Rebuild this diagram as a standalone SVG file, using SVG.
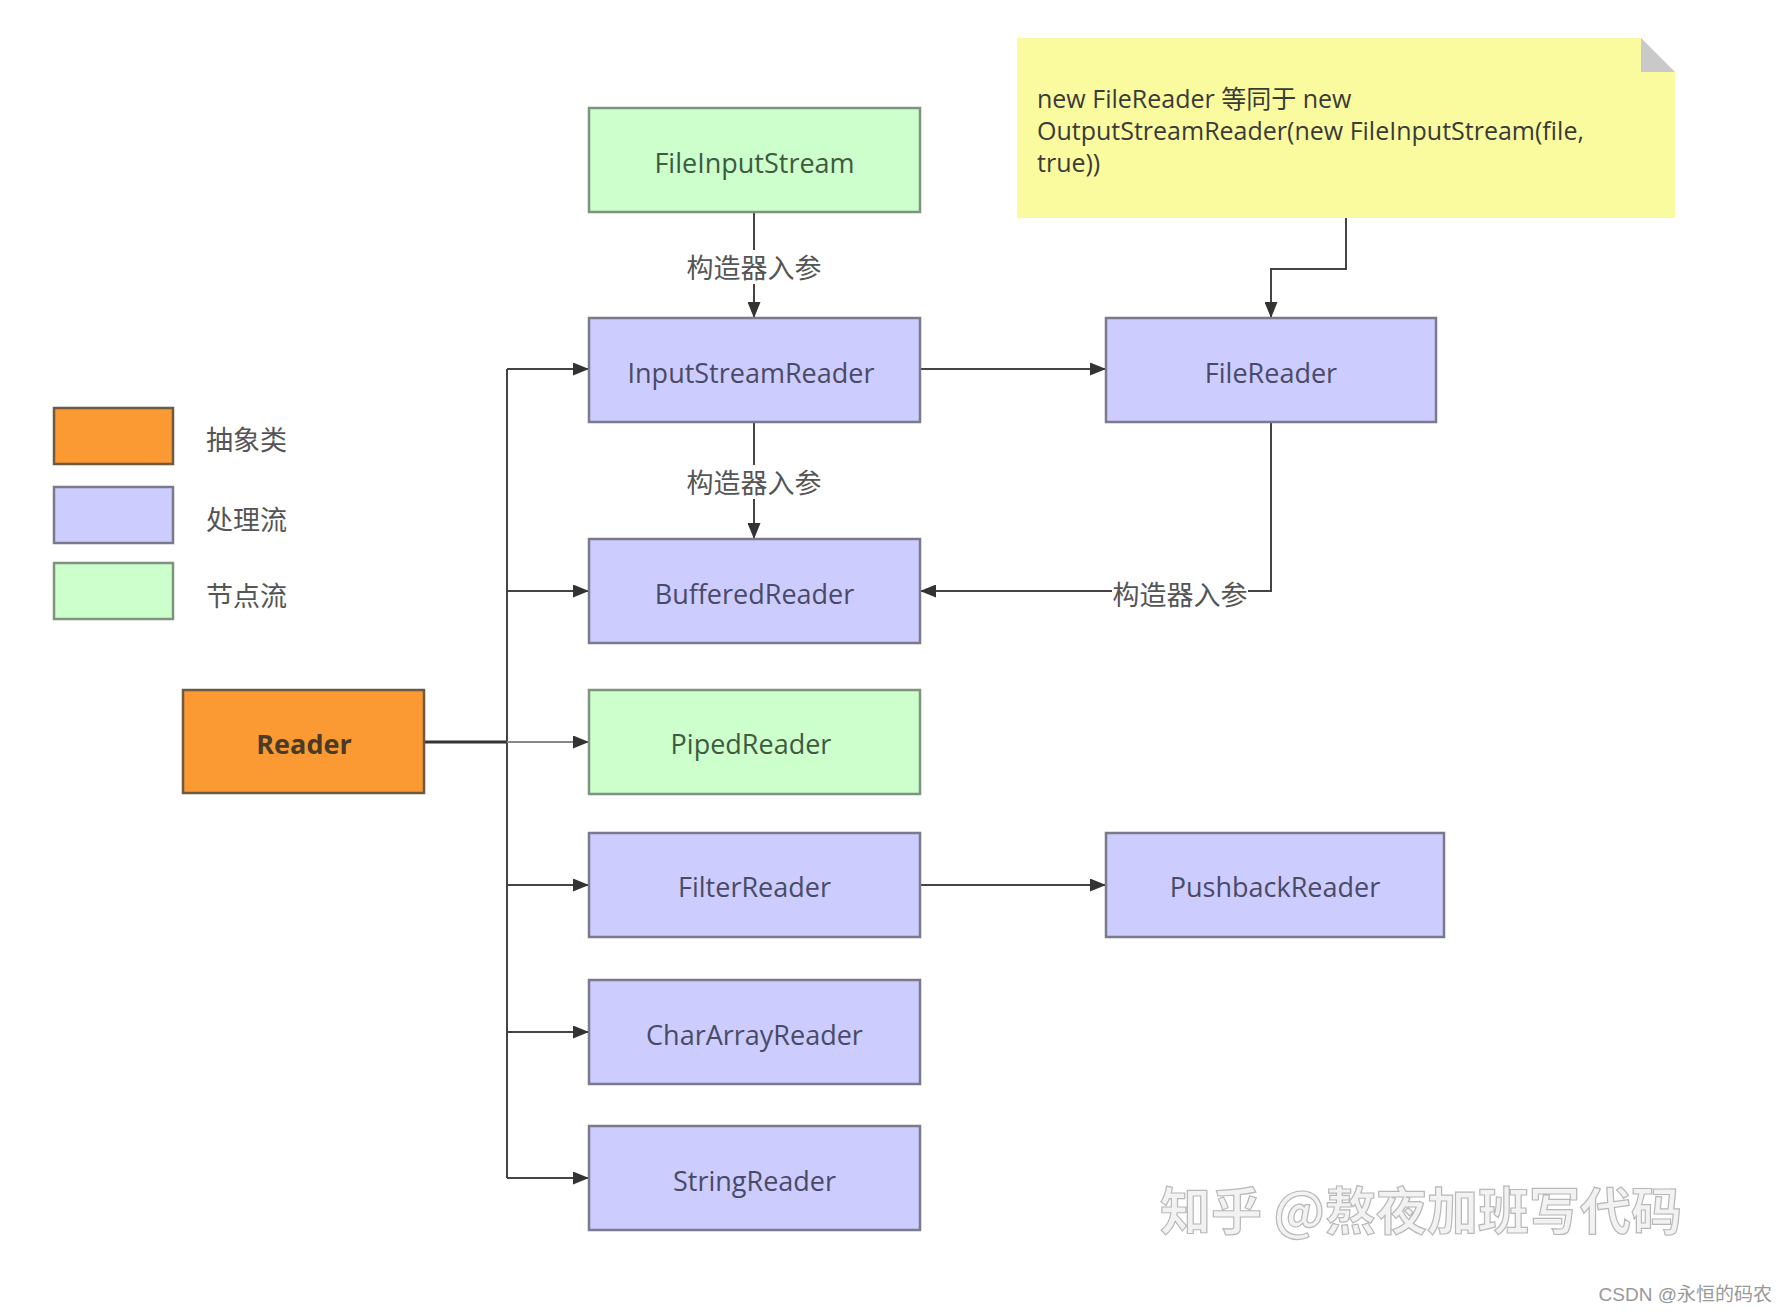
<svg xmlns="http://www.w3.org/2000/svg" width="1787" height="1312" viewBox="0 0 1787 1312">
<defs>
<marker id="arr" viewBox="0 0 16 13" refX="16" refY="6.5" markerWidth="16" markerHeight="13" markerUnits="userSpaceOnUse" orient="auto">
<path d="M0,0 L16,6.5 L0,13 Z" fill="#333"/>
</marker>
<style>
.box{stroke-width:2.5}
.purple{fill:#ccccff;stroke:#7a7a8c}
.green{fill:#ccffcc;stroke:#7f947f}
.orange{fill:#fb9933;stroke:#6e5a40}
.t{font-family:"Open Sans","Noto Sans","Noto Sans CJK SC",sans-serif;font-size:27px;text-anchor:middle;dominant-baseline:central}
.tp{fill:#4a4a66}
.tg{fill:#3f5a3f}
.lbl{font-family:"Noto Sans CJK SC",sans-serif;font-size:27px;fill:#555;text-anchor:middle;dominant-baseline:central}
.leg{font-family:"Noto Sans CJK SC",sans-serif;font-size:27px;fill:#555;dominant-baseline:central}
.edge{fill:none;stroke:#444;stroke-width:2}
</style>
</defs>
<rect width="1787" height="1312" fill="#ffffff"/>

<g id="legend">
<rect x="54" y="408" width="119" height="56" class="box orange"/>
<text x="206" y="438" class="leg">抽象类</text>
<rect x="54" y="487" width="119" height="56" class="box purple"/>
<text x="206" y="518" class="leg">处理流</text>
<rect x="54" y="563" width="119" height="56" class="box green"/>
<text x="206" y="594" class="leg">节点流</text>
</g>

<g id="connectors">
<path class="edge" d="M754,213 V318" marker-end="url(#arr)"/>
<path class="edge" d="M754,422 V539" marker-end="url(#arr)"/>
<path class="edge" d="M920,369 H1106" marker-end="url(#arr)"/>
<path class="edge" d="M1346,218 V269 H1271 V318" marker-end="url(#arr)"/>
<path class="edge" d="M1271,422 V591 H920" marker-end="url(#arr)"/>
<path class="edge" d="M920,885 H1106" marker-end="url(#arr)"/>
<path class="edge" d="M424,742 H507" style="stroke-width:3;stroke:#333"/>
<path class="edge" d="M507,369 V1178"/>
<path class="edge" d="M507,369 H589" marker-end="url(#arr)"/>
<path class="edge" d="M507,591 H589" marker-end="url(#arr)"/>
<path class="edge" d="M507,742 H589" style="stroke:#888" marker-end="url(#arr)"/>
<path class="edge" d="M507,885 H589" marker-end="url(#arr)"/>
<path class="edge" d="M507,1032 H589" marker-end="url(#arr)"/>
<path class="edge" d="M507,1178 H589" marker-end="url(#arr)"/>
<rect x="685" y="250" width="138" height="34" fill="#fff"/>
<text x="754" y="266" class="lbl">构造器入参</text>
<rect x="685" y="465" width="138" height="34" fill="#fff"/>
<text x="754" y="481" class="lbl">构造器入参</text>
<rect x="1112" y="576" width="136" height="32" fill="#fff"/>
<text x="1180" y="593" class="lbl">构造器入参</text>
</g>

<g id="note">
<path d="M1017,38 H1641 L1675,72 V218 H1017 Z" fill="#fafa9e"/>
<path d="M1641,38 L1675,72 H1641 Z" fill="#c9c9c9"/>
<text font-family="Open Sans, Noto Sans CJK SC, sans-serif" font-size="25" fill="#3a3a3a">
<tspan x="1037" y="108">new FileReader 等同于 new</tspan>
<tspan x="1037" y="140">OutputStreamReader(new FileInputStream(file,</tspan>
<tspan x="1037" y="172">true))</tspan>
</text>
</g>

<g id="FileInputStream">
<rect x="589" y="108" width="331" height="104" class="box green"/>
<text x="754.5" y="162" class="t tg">FileInputStream</text>
</g>
<g id="InputStreamReader">
<rect x="589" y="318" width="331" height="104" class="box purple"/>
<text x="751" y="372" class="t tp">InputStreamReader</text>
</g>
<g id="FileReader">
<rect x="1106" y="318" width="330" height="104" class="box purple"/>
<text x="1271" y="372" class="t tp">FileReader</text>
</g>
<g id="BufferedReader">
<rect x="589" y="539" width="331" height="104" class="box purple"/>
<text x="754.5" y="593" class="t tp">BufferedReader</text>
</g>
<g id="Reader">
<rect x="183" y="690" width="241" height="103" class="box orange"/>
<text x="304" y="743" class="t" style="font-weight:bold;fill:#4a3a28">Reader</text>
</g>
<g id="PipedReader">
<rect x="589" y="690" width="331" height="104" class="box green"/>
<text x="751" y="743" class="t tg">PipedReader</text>
</g>
<g id="FilterReader">
<rect x="589" y="833" width="331" height="104" class="box purple"/>
<text x="754.5" y="886" class="t tp">FilterReader</text>
</g>
<g id="PushbackReader">
<rect x="1106" y="833" width="338" height="104" class="box purple"/>
<text x="1275" y="886" class="t tp">PushbackReader</text>
</g>
<g id="CharArrayReader">
<rect x="589" y="980" width="331" height="104" class="box purple"/>
<text x="754.5" y="1034" class="t tp">CharArrayReader</text>
</g>
<g id="StringReader">
<rect x="589" y="1126" width="331" height="104" class="box purple"/>
<text x="754.5" y="1180" class="t tp">StringReader</text>
</g>

<g id="watermark">
<text x="1160" y="1230" font-family="Noto Sans CJK SC, sans-serif" font-size="51" font-weight="bold" fill="#f2f2f2" stroke="#b8b8b8" stroke-width="1.2">知乎 @熬夜加班写代码</text>
<text x="1772" y="1294" font-family="Liberation Sans, Noto Sans CJK SC, sans-serif" font-size="19" fill="#999" text-anchor="end" dominant-baseline="central">CSDN @永恒的码农</text>
</g>
</svg>
